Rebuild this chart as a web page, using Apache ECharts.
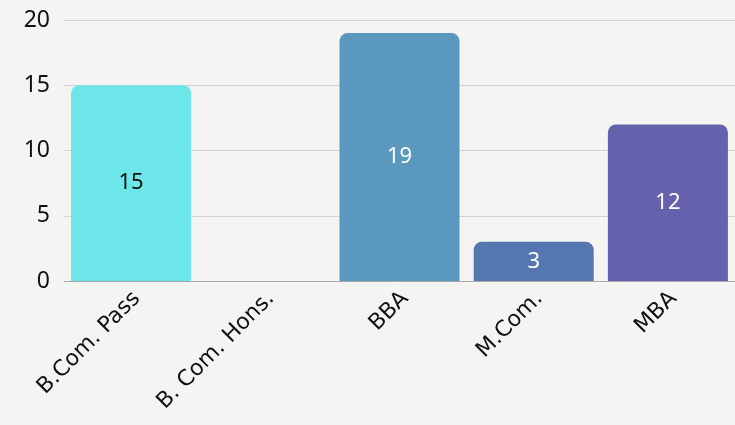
<!DOCTYPE html>
<html>
<head>
<meta charset="utf-8">
<script src="https://cdn.jsdelivr.net/npm/echarts@6/dist/echarts.min.js"></script>
<style>
  html, body { margin: 0; padding: 0; background: #f4f4f2; }
  #chart { width: 735px; height: 425px; }
</style>
</head>
<body>
<div id="chart"></div>
<script>
// programme categories and counts
const courses = ['B.Com. Pass', 'B. Com. Hons.', 'BBA', 'M.Com.', 'MBA'];
const counts = [15, 0, 19, 3, 12];
const barColors = ['#6ce6e9', '#6ab4d6', '#5a98bd', '#5577af', '#6661ad'];
const labelColors = ['#111111', '#ffffff', '#ffffff', '#ffffff', '#ffffff'];
const yTicks = [0, 5, 10, 15, 20];

const chart = echarts.init(document.getElementById('chart'));

chart.setOption({
  backgroundColor: '#f4f4f2',
  textStyle: { fontFamily: '"Noto Sans", sans-serif' },
  grid: { left: 64, right: 0, top: 20, bottom: 144 },
  xAxis: {
    type: 'category',
    data: courses,
    axisLine: { lineStyle: { color: '#a8a8a8', width: 1 } },
    axisTick: { show: false },
    axisLabel: {
      rotate: 45,
      color: '#111',
      fontFamily: '"DejaVu Sans", sans-serif',
      fontSize: 22,
      margin: 20,
      padding: [0, -8, 0, 0],
      interval: 0
    }
  },
  yAxis: {
    type: 'value',
    min: yTicks[0],
    max: yTicks[yTicks.length - 1],
    interval: 5,
    axisLine: { show: false },
    axisTick: { show: false },
    splitLine: { lineStyle: { color: '#d2d2d2', width: 1 } },
    axisLabel: { color: '#111', fontSize: 23, margin: 14 }
  },
  series: [{
    type: 'bar',
    barWidth: 120,
    data: counts.map((v, i) => ({
      value: v,
      itemStyle: { color: barColors[i], borderRadius: [8, 8, 0, 0] },
      label: { color: labelColors[i] }
    })),
    label: {
      show: true,
      position: 'inside',
      fontSize: 22,
      formatter: p => (p.value === 0 ? '' : p.value)
    }
  }]
});
</script>
</body>
</html>
